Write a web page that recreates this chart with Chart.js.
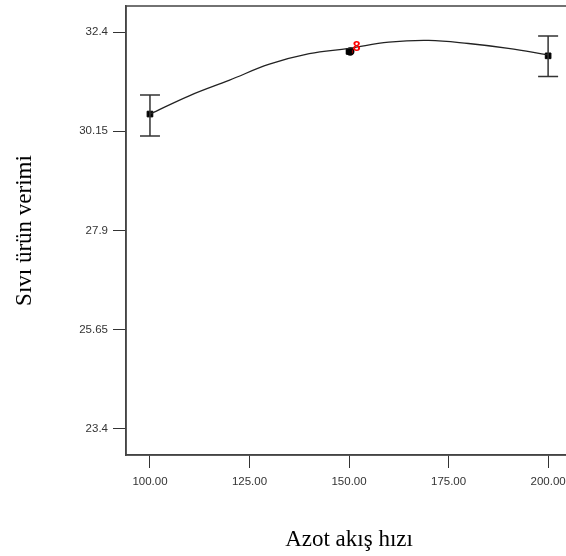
<!DOCTYPE html>
<html>
<head>
<meta charset="utf-8">
<script src="https://cdn.jsdelivr.net/npm/chart.js@4"></script>
<style>
  body { margin: 0; background: #fff; overflow: hidden; }
  #wrap { width: 580px; height: 556px; }
</style>
</head>
<body>
<div id="wrap"><canvas id="myChart" width="580" height="556"></canvas></div>
<script>
// axis ticks
var xTicks = [100, 125, 150, 175, 200];
var xTickLabels = ["100.00", "125.00", "150.00", "175.00", "200.00"];
var yTicks = [23.4, 25.65, 27.9, 30.15, 32.4];
var yTickLabels = ["23.4", "25.65", "27.9", "30.15", "32.4"];

// fitted curve
var curveX = [100, 110, 120, 130, 140, 150, 160, 170, 180, 190, 200];
var curveY = [30.54, 30.96, 31.31, 31.67, 31.91, 32.03, 32.17, 32.21, 32.14, 32.03, 31.88];

// means with error bars
var meanX = [100, 150, 200];
var meanY = [30.54, 31.96, 31.86];
var errLow = [30.04, 31.96, 31.39];
var errHigh = [30.97, 31.96, 32.31];

// red design points
var designX = [150.3];
var designY = [31.96];
var designLabel = ["8"];
var designLabelX = [151.9];
var designLabelY = [32.06];

var barColor = "#333";

// error bars, plot border, design point count
const extras = {
  id: "extras",
  afterDatasetsDraw(chart) {
    const ctx = chart.ctx;
    const xs = chart.scales.x, ys = chart.scales.y;
    ctx.save();
    ctx.strokeStyle = barColor;
    ctx.lineWidth = 1.5;
    for (let i = 0; i < meanX.length; i++) {
      if (errHigh[i] === errLow[i]) continue;
      const px = xs.getPixelForValue(meanX[i]);
      const top = ys.getPixelForValue(errHigh[i]);
      const bot = ys.getPixelForValue(errLow[i]);
      ctx.beginPath();
      ctx.moveTo(px, top); ctx.lineTo(px, bot);
      ctx.moveTo(px - 10, top); ctx.lineTo(px + 10, top);
      ctx.moveTo(px - 10, bot); ctx.lineTo(px + 10, bot);
      ctx.stroke();
    }
    ctx.fillStyle = "#ff0000";
    ctx.font = "bold 14px Arial";
    ctx.textAlign = "center";
    ctx.textBaseline = "middle";
    for (let i = 0; i < designLabel.length; i++) {
      ctx.fillText(designLabel[i], xs.getPixelForValue(designLabelX[i]), ys.getPixelForValue(designLabelY[i]));
    }
    const a = chart.chartArea;
    ctx.strokeStyle = "#444";
    ctx.lineWidth = 1.5;
    ctx.strokeRect(a.left, a.top, a.right - a.left, a.bottom - a.top);
    ctx.restore();
  }
};

new Chart("myChart", {
  type: "scatter",
  data: {
    datasets: [
      {
        type: "line",
        data: curveX.map((x, i) => ({ x: x, y: curveY[i] })),
        borderColor: "#222",
        borderWidth: 1.3,
        pointRadius: 0,
        tension: 0.4,
        fill: false
      },
      {
        data: meanX.map((x, i) => ({ x: x, y: meanY[i] })),
        pointStyle: "rect",
        pointRadius: 4,
        backgroundColor: "#000",
        borderColor: "#000"
      },
      {
        data: designX.map((x, i) => ({ x: x, y: designY[i] })),
        pointStyle: "circle",
        pointRadius: 3.5,
        backgroundColor: "#ff0000",
        borderColor: "#000",
        borderWidth: 1.5
      }
    ]
  },
  options: {
    responsive: false,
    animation: false,
    layout: { padding: { left: 0, top: 6, right: 8, bottom: 0 } },
    plugins: { legend: { display: false }, tooltip: { enabled: false } },
    scales: {
      x: {
        type: "linear",
        min: 93.98,
        max: 206,
        afterFit: s => { s.height = 101; },
        afterBuildTicks: s => { s.ticks = xTicks.map(v => ({ value: v })); },
        grid: { drawOnChartArea: false, drawTicks: true, tickLength: 13, color: "#333" },
        border: { display: true, color: "#444", width: 1.5 },
        ticks: {
          padding: 7,
          color: "#333",
          font: { family: "Arial", size: 11.5 },
          callback: (v, i) => xTickLabels[i]
        },
        title: {
          display: true,
          text: "Azot akış hızı",
          color: "#000",
          font: { family: "Liberation Serif", size: 23 },
          padding: { top: 0, bottom: 2 }
        }
      },
      y: {
        min: 22.81,
        max: 32.99,
        afterFit: s => { s.width = 126; s.paddingTop = 0; s.paddingBottom = 0; },
        afterBuildTicks: s => { s.ticks = yTicks.map(v => ({ value: v })); },
        grid: { drawOnChartArea: false, drawTicks: true, tickLength: 13, color: "#333" },
        border: { display: true, color: "#444", width: 1.5 },
        ticks: {
          padding: 5,
          color: "#333",
          font: { family: "Arial", size: 11.5 },
          callback: (v, i) => yTickLabels[i]
        },
        title: {
          display: true,
          text: "Sıvı ürün verimi",
          color: "#000",
          font: { family: "Liberation Serif", size: 23 },
          padding: { top: 11, bottom: 0 }
        }
      }
    }
  },
  plugins: [extras]
});
</script>
</body>
</html>
